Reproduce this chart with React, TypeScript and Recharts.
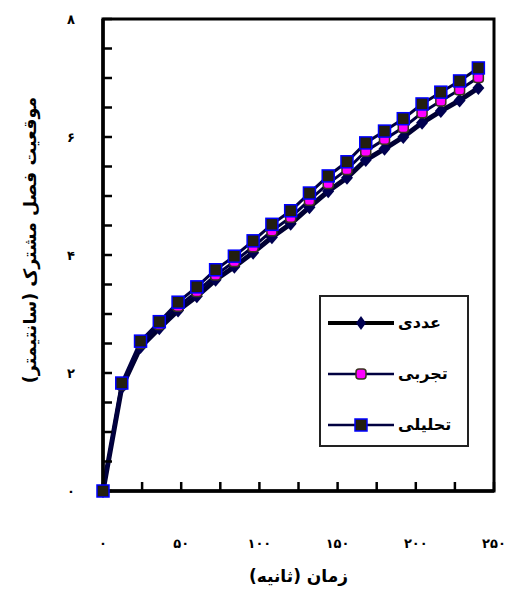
import { LineChart, Line, XAxis, YAxis, ReferenceArea, Legend, Label } from "recharts";

// time (s) and interface position (cm)
const times = [0, 12, 24, 36, 48, 60, 72, 84, 96, 108, 120, 132, 144, 156, 168, 180, 192, 204, 216, 228, 240];
const numerical = [0, 1.76, 2.44, 2.76, 3.06, 3.3, 3.58, 3.8, 4.04, 4.3, 4.53, 4.81, 5.08, 5.31, 5.61, 5.8, 6.0, 6.24, 6.44, 6.62, 6.83];
const experimental = [0, 1.8, 2.5, 2.82, 3.13, 3.38, 3.66, 3.89, 4.14, 4.41, 4.64, 4.93, 5.21, 5.45, 5.76, 5.96, 6.16, 6.41, 6.61, 6.8, 7.01];
const analytical = [0, 1.83, 2.54, 2.87, 3.2, 3.46, 3.75, 3.98, 4.24, 4.52, 4.75, 5.05, 5.34, 5.58, 5.9, 6.1, 6.31, 6.56, 6.76, 6.95, 7.17];

const xTicks = [0, 25, 50, 75, 100, 125, 150, 175, 200, 225, 250];
const xLabelled = [0, 50, 100, 150, 200, 250];
const yTicks = [0, 0.5, 1, 1.5, 2, 2.5, 3, 3.5, 4, 4.5, 5, 5.5, 6, 6.5, 7, 7.5, 8];
const yLabelled = [0, 2, 4, 6, 8];

const seriesNames = ["عددی", "تجربی", "تحلیلی"];
const xTitle = "زمان (ثانیه)";
const yTitle = "موقعیت فصل مشترک (سانتیمتر)";

const FONT = "'DejaVu Sans', sans-serif";
const faDigits = "۰۱۲۳۴۵۶۷۸۹";
const toFa = (n: number) => String(n).replace(/\d/g, (d) => faDigits[+d]);
const rtl = (s: string) => "\u200F" + s + "\u200F";

const data = times.map((t, i) => ({
  t,
  numerical: numerical[i],
  experimental: experimental[i],
  analytical: analytical[i],
}));

const DiamondDot = (p: any) => {
  const { cx, cy, index } = p;
  if (cx == null || cy == null) return <g key={"d" + index} />;
  return <polygon key={"d" + index} points={`${cx},${cy - 7} ${cx + 6},${cy} ${cx},${cy + 7} ${cx - 6},${cy}`} fill="#000050" />;
};

const PinkDot = (p: any) => {
  const { cx, cy, index } = p;
  if (cx == null || cy == null) return <g key={"p" + index} />;
  return <rect key={"p" + index} x={cx - 5} y={cy - 5} width={10} height={10} rx={3} fill="#ff00ff" stroke="#3a3320" strokeWidth={1.5} />;
};

const SquareDot = (p: any) => {
  const { cx, cy, index } = p;
  if (cx == null || cy == null) return <g key={"s" + index} />;
  return <rect key={"s" + index} x={cx - 6} y={cy - 6} width={12} height={12} fill="#221e10" stroke="#0000ff" strokeWidth={1.5} />;
};

const legendItems = [
  { name: seriesNames[0], line: "#000000", lw: 4, dot: <polygon points="33,1 38,8 33,15 28,8" fill="#000050" /> },
  { name: seriesNames[1], line: "#000040", lw: 2.5, dot: <rect x={28} y={3} width={10} height={10} rx={3} fill="#ff00ff" stroke="#3a3320" strokeWidth={1.5} /> },
  { name: seriesNames[2], line: "#000040", lw: 2.5, dot: <rect x={27} y={2} width={12} height={12} fill="#221e10" stroke="#0000ff" strokeWidth={1.5} /> },
];

const LegendBox = () => (
  <div
    style={{
      width: 150,
      height: 152,
      boxSizing: "border-box",
      border: "2px solid #222",
      background: "#fff",
      fontFamily: FONT,
    }}
  >
    {legendItems.map((it) => (
      <div key={it.name} style={{ display: "flex", alignItems: "center", height: 51 }}>
        <svg width={66} height={16} style={{ marginLeft: 7 }}>
          <line x1={0} y1={8} x2={66} y2={8} stroke={it.line} strokeWidth={it.lw} />
          {it.dot}
        </svg>
        <span style={{ direction: "rtl", fontWeight: "bold", fontSize: 16, marginLeft: 4, color: "#000" }}>{it.name}</span>
      </div>
    ))}
  </div>
);

export default function App() {
  const tickStyle = { fontFamily: FONT, fontSize: 13, fontWeight: "bold", fill: "#000" };
  const titleStyle = { fontFamily: FONT, fontSize: 17, fontWeight: "bold", fill: "#000" };
  return (
    <div style={{ position: "absolute", left: 0, top: 0, background: "#fff" }}>
      <LineChart width={517} height={608} data={data} margin={{ top: 19, right: 23, bottom: 17, left: 0 }}>
        <XAxis
          dataKey="t"
          type="number"
          domain={[0, 250]}
          ticks={xTicks}
          interval={0}
          tickFormatter={(v: number) => (xLabelled.includes(v) ? toFa(v) : "")}
          tickSize={-9}
          tickMargin={57}
          height={100}
          tick={tickStyle}
          axisLine={{ stroke: "#000", strokeWidth: 3.5 }}
          tickLine={{ stroke: "#000", strokeWidth: 2.5 }}
        >
          <Label value={rtl(xTitle)} position="center" dy={35} style={titleStyle} />
        </XAxis>
        <YAxis
          type="number"
          domain={[0, 8]}
          ticks={yTicks}
          interval={0}
          tickFormatter={(v: number) => (yLabelled.includes(v) ? toFa(v) : "")}
          tickSize={-9}
          tickMargin={37}
          width={103}
          tick={tickStyle}
          axisLine={{ stroke: "#000", strokeWidth: 3.5 }}
          tickLine={{ stroke: "#000", strokeWidth: 2.5 }}
        >
          <Label value={rtl(yTitle)} angle={-90} position="center" dx={-22} dy={-15} style={{ ...titleStyle, fontSize: 17.5 }} />
        </YAxis>
        <ReferenceArea x1={0} x2={250} y1={0} y2={8} fill="none" stroke="#000" strokeWidth={3} />
        <Line dataKey="numerical" name={seriesNames[0]} stroke="#000033" strokeWidth={5} dot={DiamondDot} isAnimationActive={false} />
        <Line dataKey="experimental" name={seriesNames[1]} stroke="#000040" strokeWidth={3} dot={PinkDot} isAnimationActive={false} />
        <Line dataKey="analytical" name={seriesNames[2]} stroke="#000040" strokeWidth={3} dot={SquareDot} isAnimationActive={false} />
        <Legend
          layout="vertical"
          align="center"
          verticalAlign="middle"
          content={<LegendBox />}
          wrapperStyle={{ left: 319, top: 295, width: 150 }}
        />
      </LineChart>
    </div>
  );
}
